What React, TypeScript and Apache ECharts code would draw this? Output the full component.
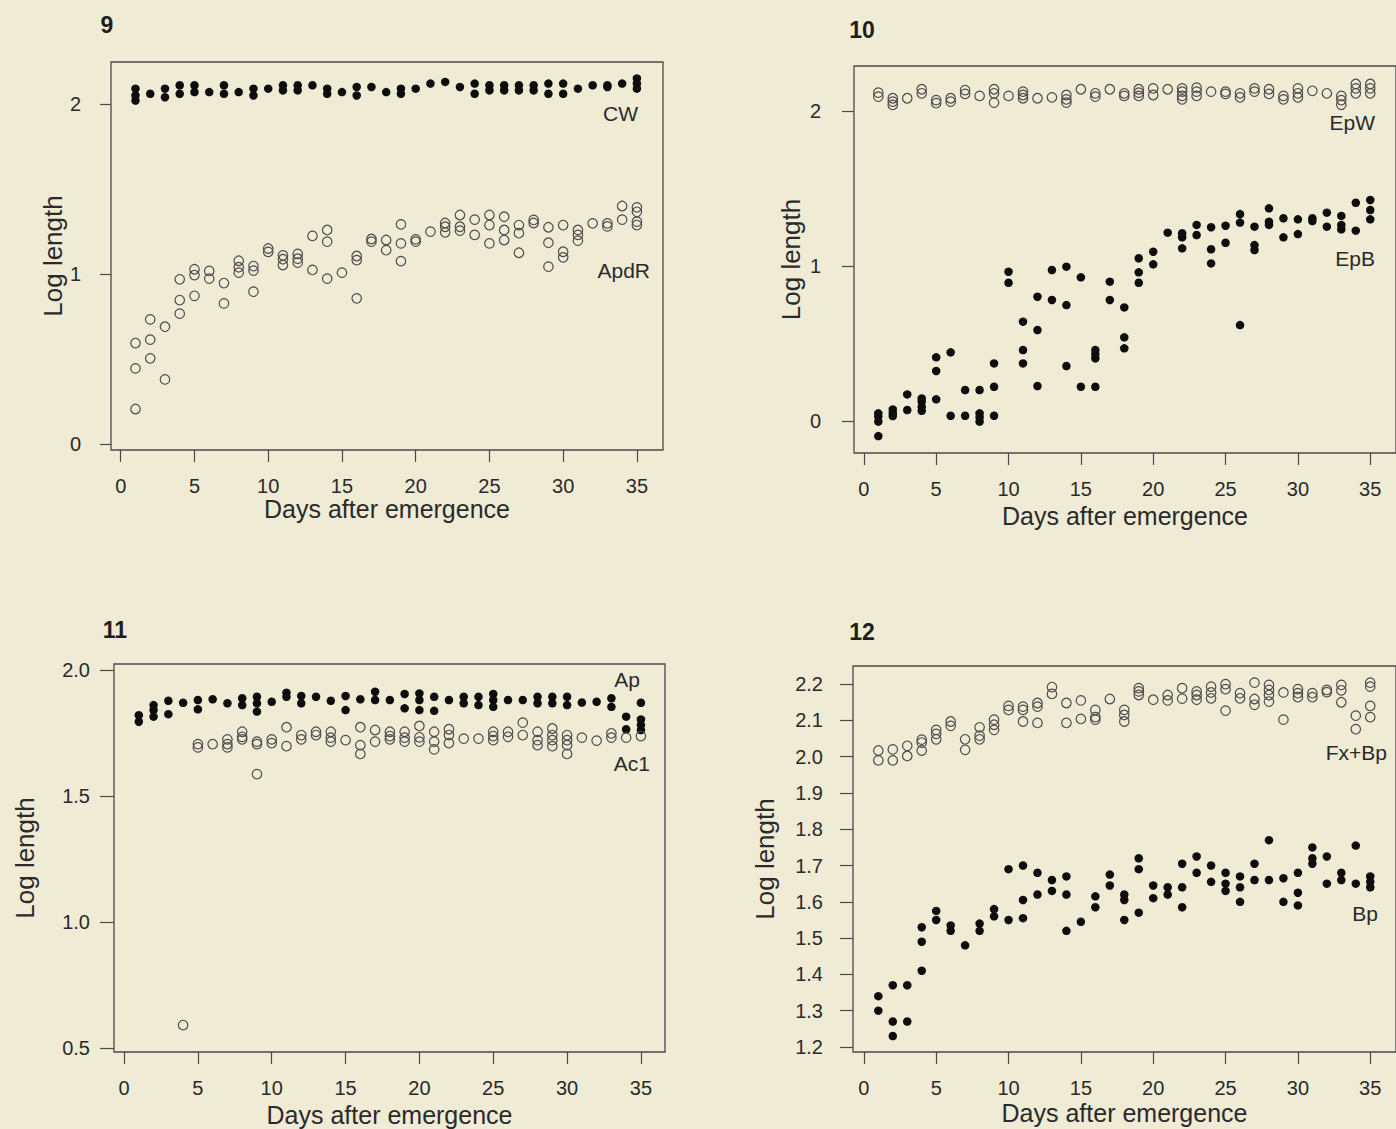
import React, { useEffect, useRef } from "react";
import * as echarts from "echarts";

// Values per day (index 0 = day 1 ... index 34 = day 35)
const days: number[] = Array.from({ length: 35 }, (_, i) => i + 1);

const cwValues: number[][] = [
  [2.09, 2.05, 2.02], [2.06], [2.09, 2.04], [2.11, 2.06], [2.11, 2.07], [2.07], [2.11, 2.06], [2.07],
  [2.09, 2.05], [2.09], [2.11, 2.08], [2.11, 2.08], [2.11], [2.09, 2.06], [2.07], [2.1, 2.05], [2.1],
  [2.07], [2.09, 2.06], [2.09], [2.12], [2.13], [2.1], [2.12, 2.06], [2.11, 2.08], [2.11, 2.08],
  [2.11, 2.08], [2.11, 2.08], [2.12, 2.06], [2.12, 2.06], [2.09], [2.11], [2.11, 2.1], [2.12], [2.15, 2.12, 2.09],
];
const apdrValues: number[][] = [
  [0.594, 0.445, 0.206], [0.733, 0.614, 0.504], [0.69, 0.38], [0.969, 0.847, 0.767], [1.028, 0.994, 0.872],
  [1.018, 0.973], [0.947, 0.827], [1.078, 1.04, 1.008], [1.047, 1.02, 0.896], [1.15, 1.13],
  [1.11, 1.087, 1.053], [1.118, 1.09, 1.067], [1.224, 1.024], [1.259, 1.19, 0.973], [1.008],
  [1.106, 1.082, 0.857], [1.206, 1.19], [1.2, 1.14], [1.292, 1.18, 1.076], [1.204, 1.19], [1.249],
  [1.3, 1.278, 1.245], [1.347, 1.278, 1.255], [1.32, 1.23], [1.347, 1.288, 1.18], [1.337, 1.259, 1.2],
  [1.288, 1.24, 1.125], [1.318, 1.3], [1.275, 1.184, 1.043], [1.288, 1.131, 1.098], [1.259, 1.23, 1.196],
  [1.298], [1.298, 1.28], [1.4, 1.32], [1.392, 1.366, 1.308, 1.288],
];
const epwValues: number[][] = [
  [2.118, 2.092], [2.082, 2.06, 2.039], [2.082], [2.14, 2.114], [2.07, 2.05], [2.082, 2.06], [2.135, 2.11],
  [2.097], [2.14, 2.114, 2.054], [2.097], [2.125, 2.103, 2.082], [2.082], [2.088], [2.103, 2.075, 2.054],
  [2.14], [2.114, 2.092], [2.14], [2.114, 2.097], [2.14, 2.118, 2.097], [2.146, 2.103], [2.14],
  [2.146, 2.125, 2.097, 2.075], [2.15, 2.125, 2.097], [2.125], [2.125, 2.11], [2.114, 2.088], [2.146, 2.125],
  [2.14, 2.11], [2.097, 2.075], [2.146, 2.114, 2.088], [2.13], [2.114], [2.097, 2.07, 2.04],
  [2.174, 2.146, 2.114], [2.174, 2.146, 2.114],
];
const epbValues: number[][] = [
  [0.05, 0.028, -0.004, -0.097], [0.075, 0.05, 0.032], [0.172, 0.071], [0.146, 0.125, 0.092, 0.066],
  [0.411, 0.323, 0.14], [0.443, 0.034], [0.2, 0.034], [0.2, 0.05, 0.024, -0.004], [0.372, 0.221, 0.034],
  [0.963, 0.892], [0.641, 0.458, 0.372], [0.802, 0.587, 0.226], [0.974, 0.781], [0.996, 0.748, 0.355],
  [0.927, 0.221], [0.458, 0.432, 0.404, 0.221], [0.899, 0.781], [0.733, 0.54, 0.469], [1.05, 0.959, 0.892],
  [1.092, 1.011], [1.215], [1.211, 1.185, 1.114], [1.265, 1.2], [1.25, 1.108, 1.017], [1.26, 1.15],
  [1.335, 1.28, 0.619], [1.254, 1.135, 1.103], [1.372, 1.286, 1.265], [1.308, 1.185], [1.301, 1.206],
  [1.308, 1.29], [1.344, 1.254], [1.323, 1.265, 1.237], [1.408, 1.228], [1.426, 1.361, 1.301],
];
const apValues: number[][] = [
  [1.821, 1.795], [1.861, 1.841, 1.815], [1.878, 1.825], [1.87], [1.881, 1.844], [1.884], [1.868],
  [1.888, 1.861], [1.894, 1.868, 1.835], [1.874], [1.91, 1.894], [1.897, 1.868], [1.894], [1.878],
  [1.897, 1.841], [1.884], [1.914, 1.881], [1.881], [1.905, 1.848], [1.907, 1.881, 1.841], [1.894, 1.838],
  [1.881], [1.894, 1.868], [1.894, 1.861], [1.905, 1.881, 1.854], [1.881], [1.881], [1.894, 1.868],
  [1.894, 1.868], [1.894, 1.861], [1.871], [1.874], [1.888, 1.854], [1.815, 1.765], [1.87, 1.804, 1.782, 1.762],
];
const ac1Values: number[][] = [
  [], [], [], [0.591], [1.706, 1.693], [1.706], [1.725, 1.706, 1.693], [1.755, 1.735, 1.725],
  [1.716, 1.706, 1.587], [1.725, 1.71], [1.773, 1.698], [1.742, 1.725], [1.755, 1.742], [1.755, 1.732, 1.716],
  [1.722], [1.773, 1.702, 1.667], [1.762, 1.716], [1.755, 1.738, 1.725], [1.755, 1.732, 1.716],
  [1.778, 1.733, 1.716], [1.755, 1.716, 1.685], [1.765, 1.742, 1.71], [1.728], [1.728], [1.755, 1.738, 1.722],
  [1.755, 1.735], [1.791, 1.742], [1.755, 1.722, 1.702], [1.768, 1.742, 1.722, 1.698],
  [1.742, 1.722, 1.702, 1.667], [1.732], [1.72], [1.749, 1.732], [1.732], [1.738],
];
const fxbpValues: number[][] = [
  [2.017, 1.99], [2.02, 1.99], [2.03, 2.002], [2.047, 2.039, 2.017], [2.074, 2.063, 2.048], [2.097, 2.085],
  [2.048, 2.019], [2.081, 2.058, 2.048], [2.102, 2.088, 2.074], [2.14, 2.129], [2.138, 2.129, 2.097],
  [2.148, 2.138, 2.093], [2.192, 2.173], [2.148, 2.093], [2.155, 2.104], [2.129, 2.109, 2.102], [2.159],
  [2.129, 2.115, 2.097], [2.189, 2.18, 2.17], [2.157], [2.17, 2.155], [2.189, 2.16], [2.18, 2.17, 2.157],
  [2.193, 2.177, 2.161], [2.2, 2.186, 2.127], [2.175, 2.161], [2.204, 2.159, 2.143], [2.198, 2.184, 2.17, 2.152],
  [2.177, 2.102], [2.186, 2.175, 2.164], [2.175, 2.164], [2.184, 2.178], [2.198, 2.183, 2.15], [2.113, 2.076],
  [2.204, 2.193, 2.14, 2.109],
];
const bpValues: number[][] = [
  [1.34, 1.3], [1.37, 1.27, 1.23], [1.37, 1.27], [1.53, 1.49, 1.41], [1.575, 1.55], [1.535, 1.52], [1.48],
  [1.54, 1.52], [1.58, 1.56], [1.69, 1.55], [1.7, 1.605, 1.555], [1.68, 1.62], [1.66, 1.63], [1.67, 1.62, 1.52],
  [1.545], [1.615, 1.585], [1.675, 1.645], [1.62, 1.605, 1.55], [1.72, 1.69, 1.57], [1.645, 1.61], [1.64, 1.62],
  [1.705, 1.64, 1.585], [1.725, 1.68], [1.7, 1.655], [1.68, 1.65, 1.63], [1.67, 1.64, 1.6], [1.705, 1.66],
  [1.77, 1.66], [1.665, 1.6], [1.68, 1.625, 1.59], [1.75, 1.72, 1.705], [1.725, 1.65], [1.68, 1.66],
  [1.755, 1.65], [1.67, 1.655, 1.64],
];

const xTicks: number[] = [0, 5, 10, 15, 20, 25, 30, 35];
const yTicks9: number[] = [0, 1, 2];
const yTicks10: number[] = [0, 1, 2];
const yTicks11: number[] = [0.5, 1.0, 1.5, 2.0];
const yTicks12: number[] = [1.2, 1.3, 1.4, 1.5, 1.6, 1.7, 1.8, 1.9, 2.0, 2.1, 2.2];

const panelNumbers: string[] = ["9", "10", "11", "12"];
const xTitle = "Days after emergence";
const yTitle = "Log length";

function toPoints(vals: number[][]): number[][] {
  const out: number[][] = [];
  vals.forEach((list, i) => list.forEach((v) => out.push([days[i], v])));
  return out;
}

const FONT = "Liberation Sans, Arial, sans-serif";
const TXT = "#2a2a2a";
const BG = "#efebd5";

export default function App() {
  const ref = useRef<HTMLDivElement>(null);
  useEffect(() => {
    if (!ref.current) return;
    const chart = echarts.init(ref.current, undefined, { renderer: "svg" });

    const grids = [
      { left: 111, top: 62, width: 552, height: 388 },
      { left: 854, top: 66, width: 549, height: 387 },
      { left: 114, top: 664, width: 551, height: 388 },
      { left: 853, top: 666, width: 550, height: 386 },
    ].map((g) => ({ ...g, show: true, borderColor: "#4a4a4a", borderWidth: 1.3, backgroundColor: "transparent" }));

    const xRanges = [[-0.66, 36.77], [-0.68, 36.78], [-0.68, 36.63], [-0.75, 36.78]];
    const xNameGaps = [44, 50, 50, 48];
    const xAxes = xRanges.map((r, i) => ({
      type: "value",
      gridIndex: i,
      min: r[0],
      max: r[1],
      position: "bottom",
      name: xTitle,
      nameLocation: "middle",
      nameGap: xNameGaps[i],
      nameTextStyle: { fontFamily: FONT, fontSize: 25, color: TXT },
      splitLine: { show: false },
      axisLine: { show: false, onZero: false },
      axisTick: { show: true, inside: false, length: 12, customValues: xTicks, lineStyle: { color: "#4a4a4a", width: 1.2 } },
      axisLabel: { customValues: xTicks, margin: 26, fontFamily: FONT, fontSize: 20, color: TXT },
    }));

    const yDefs = [
      { min: -0.035, max: 2.247, ticks: yTicks9, fmt: (v: number) => String(v), gap: 42, margin: 30, tick: 11 },
      { min: -0.206, max: 2.29, ticks: yTicks10, fmt: (v: number) => String(v), gap: 50, margin: 33, tick: 12 },
      { min: 0.484, max: 2.024, ticks: yTicks11, fmt: (v: number) => v.toFixed(1), gap: 76, margin: 24, tick: 14 },
      { min: 1.186, max: 2.25, ticks: yTicks12, fmt: (v: number) => v.toFixed(1), gap: 75, margin: 30, tick: 13 },
    ];
    const yAxes = yDefs.map((d, i) => ({
      type: "value",
      gridIndex: i,
      min: d.min,
      max: d.max,
      position: "left",
      name: yTitle,
      nameLocation: "middle",
      nameGap: d.gap,
      nameTextStyle: { fontFamily: FONT, fontSize: 26, color: TXT },
      splitLine: { show: false },
      axisLine: { show: false, onZero: false },
      axisTick: { show: true, inside: false, length: d.tick, customValues: d.ticks, lineStyle: { color: "#4a4a4a", width: 1.2 } },
      axisLabel: { customValues: d.ticks, formatter: d.fmt, margin: d.margin, fontFamily: FONT, fontSize: 20, color: TXT },
    }));

    const filled = (name: string, vals: number[][], i: number) => ({
      name,
      type: "scatter",
      xAxisIndex: i,
      yAxisIndex: i,
      data: toPoints(vals),
      symbol: "circle",
      symbolSize: 8.5,
      itemStyle: { color: "#0d0d0d", opacity: 1 },
    });
    const open = (name: string, vals: number[][], i: number) => ({
      name,
      type: "scatter",
      xAxisIndex: i,
      yAxisIndex: i,
      data: toPoints(vals),
      symbol: "circle",
      symbolSize: 9.5,
      itemStyle: { color: "rgba(0,0,0,0)", borderColor: "#4d4d4d", borderWidth: 1.2, opacity: 1 },
    });

    const numPos = [[107, 25], [862, 30], [115, 630], [862, 632]];
    const labels: [string, number, number][] = [
      ["CW", 638, 113], ["ApdR", 650, 270], ["EpW", 1375, 122], ["EpB", 1375, 258],
      ["Ap", 640, 679], ["Ac1", 650, 763], ["Fx+Bp", 1387, 752], ["Bp", 1378, 913],
    ];

    const graphic = [
      ...panelNumbers.map((t, i) => ({
        type: "text",
        x: numPos[i][0],
        y: numPos[i][1],
        style: { text: t, font: `bold 23px ${FONT}`, fill: "#1e1e1e", textAlign: "center", textVerticalAlign: "middle" },
      })),
      ...labels.map(([t, x, y]) => ({
        type: "text",
        x,
        y,
        style: { text: t, font: `21px ${FONT}`, fill: TXT, textAlign: "right", textVerticalAlign: "middle" },
      })),
    ];

    chart.setOption({
      animation: false,
      backgroundColor: BG,
      grid: grids,
      xAxis: xAxes,
      yAxis: yAxes,
      graphic,
      series: [
        filled("CW", cwValues, 0),
        open("ApdR", apdrValues, 0),
        open("EpW", epwValues, 1),
        filled("EpB", epbValues, 1),
        filled("Ap", apValues, 2),
        open("Ac1", ac1Values, 2),
        open("Fx+Bp", fxbpValues, 3),
        filled("Bp", bpValues, 3),
      ],
    });
    return () => chart.dispose();
  }, []);

  return (
    <div
      ref={ref}
      style={{ position: "absolute", left: 0, top: 0, width: 1396, height: 1129, overflow: "hidden" }}
    />
  );
}
